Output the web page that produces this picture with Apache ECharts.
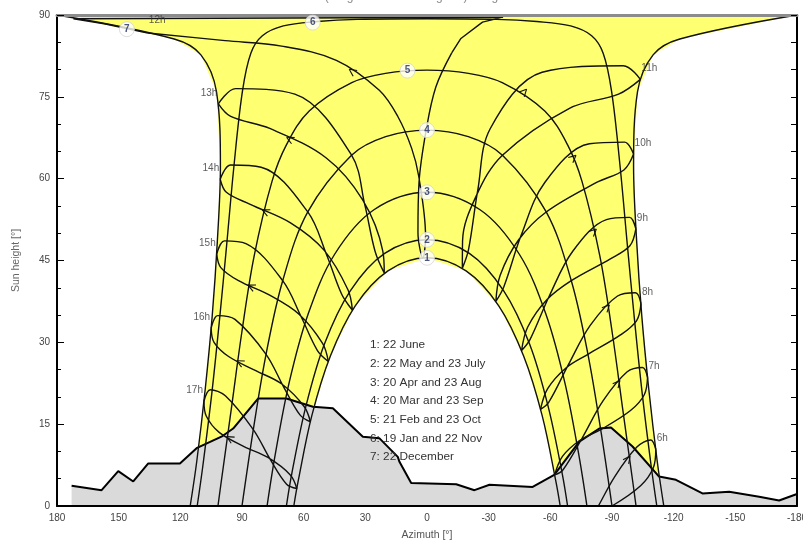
<!DOCTYPE html>
<html><head><meta charset="utf-8">
<script src="https://cdn.jsdelivr.net/npm/echarts/dist/echarts.min.js"></script>
<style>html,body{margin:0;padding:0;background:#fff}#c{width:803px;height:543px}</style>
</head><body><div id="c"></div>
<script>
// ---------- data (azimuth [deg], sun height [deg]) ----------
const titleText = 'Sun Paths (Height / Azimuth diagram) - Legal Time';
const legendLines = ['1: 22 June','2: 22 May and 23 July','3: 20 Apr and 23 Aug','4: 20 Mar and 23 Sep','5: 21 Feb and 23 Oct','6: 19 Jan and 22 Nov','7: 22 December'];

const day1 = [[-64.8,0],[-62.7,4.5],[-56.0,16.6],[-47.0,27.5],[-34.9,36.7],[-19.0,43.1],[0,45.5],[19.0,43.1],[34.9,36.7],[47.0,27.5],[56.0,16.6],[62.7,4.5],[64.8,0]];
const day2 = [[-68.4,0],[-65.8,5.9],[-58.9,18.3],[-49.9,29.7],[-37.4,39.4],[-20.6,46.3],[0,48.8],[20.6,46.3],[37.4,39.4],[49.9,29.7],[58.9,18.3],[65.8,5.9],[68.4,0]];
const day3 = [[-77.8,0],[-73.8,9.5],[-67.0,22.7],[-57.9,35.1],[-45.0,46.1],[-25.8,54.3],[0,57.5],[25.8,54.3],[45.0,46.1],[57.9,35.1],[67.0,22.7],[73.8,9.5],[77.8,0]];
const day4 = [[-90,0],[-84.5,14.0],[-78.3,27.8],[-70.2,41.3],[-58.0,53.9],[-36.7,64.3],[-20.1,67.7],[0,68.9],[20.1,67.7],[36.7,64.3],[58.0,53.9],[70.2,41.3],[78.3,27.8],[84.5,14.0],[90,0]];
const day5 = [[-101.7,0],[-100.3,3.9],[-95.2,17.8],[-90.1,31.8],[-84.1,45.8],[-75.4,59.5],[-68.4,66.2],[-57.3,72.4],[-36.6,77.6],[-20.2,79.3],[0,79.9],[20.2,79.3],[36.6,77.6],[57.3,72.4],[68.4,66.2],[75.4,59.5],[84.1,45.8],[90.1,31.8],[95.2,17.8],[100.3,3.9],[101.7,0]];
const day6 = [[-111.8,0],[-109.1,7.2],[-104.7,20.6],[-100.9,34.3],[-97.4,48.1],[-94.0,62.0],[-89.8,76.0],[-85.7,83.0],[-80.1,86.2],[-69.9,88.0],[-53.4,88.8],[-33.9,89.2],[0,89.3],[33.9,89.2],[53.4,88.8],[69.9,88.0],[80.1,86.2],[85.7,83.0],[89.8,76.0],[94.0,62.0],[97.4,48.1],[100.9,34.3],[104.7,20.6],[109.1,7.2],[111.8,0]];
const day7Morning = [[-115.2,0],[-112.0,8.2],[-107.9,21.4],[-104.5,34.8],[-102.0,48.5],[-100.5,62.2],[-102.4,75.9],[-110.0,82.7],[-123.0,85.6],[-180,90]];
const day7Evening = [[180,90],[123.0,85.6],[110.0,82.7],[102.4,75.9],[100.5,62.2],[102.0,48.5],[104.5,34.8],[107.9,21.4],[112.0,8.2],[115.2,0]];

// hour lines (legal time), dates: 22 Dec, 15 Jan, 11 Feb, 20 Mar, 15 Apr, 14 May, 22 Jun, 26 Jul, 1 Sep, 1 Oct, 3 Nov, 1 Dec, 22 Dec
const h06 = [[-111.3,10.4],[-110.1,7.0],[-103.9,3.7],[-90.0,0.0],[-80.3,-1.6],[-71.6,-3.9],[-67.5,-6.9],[-71.6,-6.5],[-81.5,-1.2],[-91.2,5.3],[-102.1,10.8],[-108.8,12.1],[-111.3,10.4]];
const h07 = [[-107.3,23.6],[-105.7,20.4],[-99.0,17.5],[-84.5,14.0],[-74.6,12.1],[-65.9,9.1],[-62.1,5.7],[-66.1,6.6],[-75.7,12.6],[-85.7,19.3],[-97.4,24.6],[-104.8,25.4],[-107.3,23.6]];
const h08 = [[-104.1,37.1],[-102.0,34.0],[-94.3,31.4],[-78.3,27.8],[-67.6,25.3],[-58.7,21.5],[-55.2,17.7],[-59.2,19.0],[-68.8,25.9],[-79.4,33.1],[-92.7,38.5],[-101.4,39.1],[-104.1,37.1]];
const h09 = [[-101.6,50.8],[-98.7,47.7],[-89.2,45.3],[-70.2,41.3],[-58.3,37.8],[-49.0,32.8],[-46.0,28.5],[-50.1,30.5],[-59.5,38.5],[-70.9,46.7],[-87.3,52.5],[-98.5,52.9],[-101.6,50.8]];
const h10 = [[-100.5,64.5],[-95.8,61.6],[-82.5,59.3],[-58.0,53.9],[-44.6,48.8],[-35.6,42.3],[-33.5,37.5],[-37.4,40.2],[-45.9,49.7],[-57.3,59.3],[-79.0,66.4],[-96.1,66.7],[-100.5,64.5]];
const h11 = [[-103.8,78.2],[-93.2,75.5],[-69.3,72.9],[-36.7,64.3],[-23.9,56.8],[-17.3,48.6],[-17.2,43.6],[-20.2,47.0],[-24.7,57.9],[-30.8,69.2],[-56.0,79.5],[-95.5,80.7],[-103.8,78.2]];
const h12zenith = [[-12.1,83.1],[-16.5,85.7],[-27.0,88.7],[-37.0,89.6],[172.0,89.3],[157.0,88.4],[135.8,86.7]];
const h12 = [[-12.1,83.1],[-4.3,76.8],[0.4,68.9],[3.9,59.2],[4.4,50.2],[2.0,45.4],[0.7,49.4],[4.0,60.4],[7.5,65.6],[14.2,71.4],[23.2,76.2],[44.1,81.7],[70.7,84.3],[98.2,85.3],[135.8,86.7]];
const h13 = [[101.5,73.7],[93.1,76.5],[64.3,75.5],[36.7,64.3],[30.2,55.1],[25.2,46.6],[20.8,42.7],[21.5,46.7],[31.3,56.1],[49.0,63.8],[76.5,69.2],[95.5,71.4],[101.5,73.7]];
const h14 = [[100.6,59.9],[95.6,62.5],[80.7,62.1],[58.0,53.9],[48.9,46.1],[41.5,38.8],[36.3,35.9],[38.4,39.6],[50.1,46.9],[66.4,51.9],[86.0,55.3],[97.6,57.5],[100.6,59.9]];
const h15 = [[102.3,46.2],[98.5,48.6],[88.1,48.1],[70.2,41.3],[61.1,34.6],[53.3,28.5],[48.0,26.5],[50.8,29.8],[62.4,35.2],[76.3,38.6],[91.7,41.3],[100.3,43.7],[102.3,46.2]];
const h16 = [[105.0,32.6],[101.8,34.9],[93.4,34.2],[78.3,27.8],[69.7,21.8],[61.8,16.7],[56.7,15.4],[59.7,18.2],[70.8,22.4],[83.3,24.8],[96.5,27.4],[103.6,30.0],[105.0,32.6]];
const h17 = [[108.5,19.2],[105.4,21.3],[98.1,20.2],[84.5,14.0],[76.2,8.5],[68.3,4.0],[63.3,3.2],[66.5,5.7],[77.4,8.9],[89.0,10.9],[101.1,13.5],[107.4,16.5],[108.5,19.2]];

const horizon = [[172.9,3.7],[158.3,2.9],[150.2,6.4],[142.9,4.5],[135.6,7.8],[120.2,7.8],[112.1,10.6],[100.0,12.7],[94.3,14.2],[82.2,19.7],[68.4,19.7],[55.5,18.2],[45.8,17.9],[31.2,12.7],[23.1,12.4],[14.2,9.0],[13.4,8.1],[7.7,4.2],[-14.2,4.0],[-23.1,2.9],[-30.4,3.9],[-51.4,3.5],[-61.9,5.7],[-74.1,11.8],[-83.8,14.2],[-89.5,14.4],[-100.0,10.9],[-112.9,5.4],[-121.1,4.8],[-134.0,2.3],[-147.0,2.6],[-161.6,1.7],[-171.3,1.0],[-180,2.2]];

const dayLabelNames = ['1','2','3','4','5','6','7'];
const dayLabelPos = [[0,45.5],[0,48.8],[0,57.5],[0,68.9],[9.5,79.8],[55.6,88.6],[146.0,87.4]];

const morningHourNames = ['6h','7h','8h','9h','10h','11h'];
const afternoonHourNames = ['13h','14h','15h','16h','17h'];

// ---------- build ----------
const YELLOW = '#ffff72';
const LINE = '#111';
const FONT = 'Liberation Sans, Arial, sans-serif';
const morningLines = [h06,h07,h08,h09,h10,h11];
const afternoonLines = [h13,h14,h15,h16,h17];
const allHourLines = [h06,h07,h08,h09,h10,h11,h12,h13,h14,h15,h16,h17];

const yellowOutline = day7Evening.slice().reverse().concat(day7Morning.slice().reverse()).concat(day1);

function lineSeries(data, smooth){
  return {type:'line', data:data, symbol:'none', showSymbol:false, smooth:smooth, clip:true, silent:true,
    lineStyle:{color:LINE, width:1.4}, z:3, animation:false};
}

const series = [];
series.push({type:'custom', coordinateSystem:'cartesian2d', data:[[0,45]], silent:true, z:1, animation:false,
  renderItem:function(params, api){
    return {type:'polygon', shape:{points:yellowOutline.map(function(p){return api.coord(p);})}, style:{fill:YELLOW}};
  }});
series.push({type:'line', data:horizon, symbol:'none', showSymbol:false, silent:true, z:2, animation:false,
  lineStyle:{color:'#000', width:2}, areaStyle:{color:'#dadada', opacity:1, origin:'start'}});
[day1,day2,day3,day4,day5,day6,day7Morning,day7Evening].forEach(function(d){series.push(lineSeries(d,0.35));});
allHourLines.forEach(function(d){series.push(lineSeries(d,0.35));});
series.push(lineSeries(h12zenith,false));

// arrows on hour lines (between 1 Oct and 3 Nov points, pointing toward December)
const arrowData = [];
[h06,h07,h08,h09,h10,h11,h13,h14,h15,h16,h17].forEach(function(d){ arrowData.push([d[9][0],d[9][1],d[10][0],d[10][1]]); });
arrowData.push([h12[10][0],h12[10][1],h12[11][0],h12[11][1]]);
series.push({type:'custom', coordinateSystem:'cartesian2d', data:arrowData, silent:true, z:4, animation:false,
  encode:{x:[0,2], y:[1,3]},
  renderItem:function(params, api){
    const p1 = api.coord([api.value(0), api.value(1)]);
    const p2 = api.coord([api.value(2), api.value(3)]);
    const t = 0.7;
    const tip = [p1[0]+(p2[0]-p1[0])*t, p1[1]+(p2[1]-p1[1])*t];
    const ang = Math.atan2(p2[1]-p1[1], p2[0]-p1[0]);
    const L = 8, s = 0.45;
    const a1 = [tip[0]-L*Math.cos(ang-s), tip[1]-L*Math.sin(ang-s)];
    const a2 = [tip[0]-L*Math.cos(ang+s), tip[1]-L*Math.sin(ang+s)];
    const st = {stroke:LINE, lineWidth:1.1, fill:null};
    return {type:'group', children:[
      {type:'line', shape:{x1:tip[0],y1:tip[1],x2:a1[0],y2:a1[1]}, style:st},
      {type:'line', shape:{x1:tip[0],y1:tip[1],x2:a2[0],y2:a2[1]}, style:st}
    ]};
  }});

// hour labels
const hourLabelStyleBase = {show:true, color:'#333', fontSize:10, fontFamily:FONT};
series.push({type:'scatter', symbolSize:0, silent:true, z:5, animation:false,
  data:afternoonLines.map(function(d,i){return [d[0][0], d[0][1], afternoonHourNames[i]];}),
  label:Object.assign({position:'left', distance:1, offset:[0,-11], formatter:function(p){return p.value[2];}}, hourLabelStyleBase)});
series.push({type:'scatter', symbolSize:0, silent:true, z:5, animation:false,
  data:morningLines.map(function(d,i){return [d[0][0], d[0][1], morningHourNames[i]];}),
  label:Object.assign({position:'right', distance:1, offset:[0,-11], formatter:function(p){return p.value[2];}}, hourLabelStyleBase)});
series.push({type:'scatter', symbolSize:0, silent:true, z:5, animation:false,
  data:[[h12[h12.length-1][0], h12[h12.length-1][1], '12h']],
  label:Object.assign({position:'right', distance:1, offset:[0,-13], formatter:function(p){return p.value[2];}}, hourLabelStyleBase)});

// day curve number markers
series.push({type:'scatter', symbol:'circle', symbolSize:15, silent:true, z:6, animation:false,
  data:dayLabelPos.map(function(p,i){return [p[0],p[1],dayLabelNames[i]];}),
  itemStyle:{color:'#fff', borderColor:'#d4d4d4', borderWidth:1},
  label:{show:true, position:'inside', formatter:function(p){return p.value[2];}, color:'#1e2a66', fontSize:10, fontWeight:'bold', fontFamily:FONT}});

const legendGraphics = legendLines.map(function(t,i){
  return {type:'text', left:370, top:339+i*18.7, z:10, silent:true,
    style:{text:t, fill:'#333', font:'11.8px "Liberation Sans", Arial, sans-serif'}};
});

const chart = echarts.init(document.getElementById('c'), null, {renderer:'canvas'});
chart.setOption({
  animation:false,
  backgroundColor:'#fff',
  grid:{left:57, right:6, top:15, bottom:37, containLabel:false, outerBoundsMode:'none'},
  xAxis:[{type:'value', min:-180, max:180, interval:30, inverse:true, position:'bottom', z:5,
    name:'Azimuth [°]', nameLocation:'middle', nameGap:24,
    nameTextStyle:{color:'#555', fontSize:10.5, fontFamily:FONT},
    axisLine:{show:true, onZero:false, lineStyle:{color:'#000', width:2}},
    axisTick:{show:false}, splitLine:{show:false},
    axisLabel:{color:'#444', fontSize:10, margin:7, fontFamily:FONT, showMaxLabel:true, showMinLabel:true}},
   {type:'value', min:-180, max:180, interval:30, inverse:true, position:'top', z:5,
    axisLine:{show:true, onZero:false, lineStyle:{color:'#8c8c8c', width:3}},
    axisTick:{show:false}, axisLabel:{show:false}, splitLine:{show:false}}],
  yAxis:[{type:'value', min:0, max:90, interval:15, position:'left', z:5,
    name:'Sun height [°]', nameLocation:'middle', nameGap:35, nameRotate:90,
    nameTextStyle:{color:'#666', fontSize:10.5, fontFamily:FONT},
    axisLine:{show:true, onZero:false, lineStyle:{color:'#000', width:2}},
    axisTick:{show:true, inside:true, length:7, lineStyle:{color:'#000', width:1}},
    minorTick:{show:true, splitNumber:3, length:4, lineStyle:{color:'#000', width:1}},
    splitLine:{show:false},
    axisLabel:{color:'#444', fontSize:10, margin:7, fontFamily:FONT}},
   {type:'value', min:0, max:90, interval:15, position:'right', z:5,
    axisLine:{show:true, onZero:false, lineStyle:{color:'#000', width:2}},
    axisTick:{show:true, inside:true, length:6, lineStyle:{color:'#000', width:1}},
    minorTick:{show:true, splitNumber:3, length:6, lineStyle:{color:'#000', width:1}},
    splitLine:{show:false}, axisLabel:{show:false}}],
  graphic:[{type:'text', left:'center', top:-9, silent:true,
    style:{text:titleText, fill:'#8a8a8a', font:'12px "Liberation Sans", Arial, sans-serif'}}].concat(legendGraphics),
  series:series
});
</script></body></html>
